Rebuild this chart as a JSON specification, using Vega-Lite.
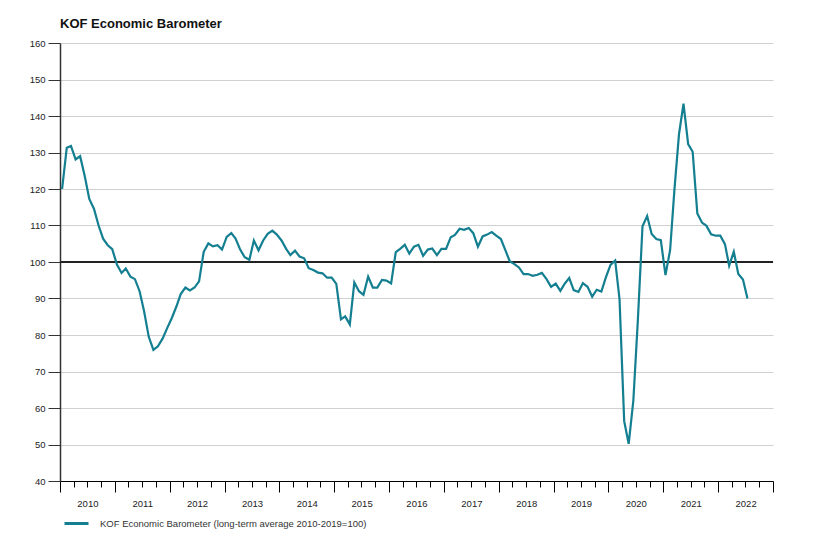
{
  "$schema": "https://vega.github.io/schema/vega-lite/v6.json",
  "width": 713,
  "height": 438,
  "autosize": {"type": "none"},
  "padding": {"left": 60, "top": 43, "right": 48, "bottom": 58},
  "background": "white",
  "title": {"text": "KOF Economic Barometer", "anchor": "start", "frame": "group", "font": "Liberation Sans", "fontSize": 13, "fontWeight": "bold", "color": "#111", "offset": 7},
  "config": {"view": {"stroke": null}, "font": "Liberation Sans"},
  "data": {"values": [
    {"date": "2010-01-15", "value": 120.0}, {"date": "2010-02-15", "value": 131.3}, {"date": "2010-03-15", "value": 131.8}, {"date": "2010-04-15", "value": 128.1},
    {"date": "2010-05-15", "value": 129.0}, {"date": "2010-06-15", "value": 123.5}, {"date": "2010-07-15", "value": 117.3}, {"date": "2010-08-15", "value": 114.6},
    {"date": "2010-09-15", "value": 110.0}, {"date": "2010-10-15", "value": 106.4}, {"date": "2010-11-15", "value": 104.6}, {"date": "2010-12-15", "value": 103.5},
    {"date": "2011-01-15", "value": 99.3}, {"date": "2011-02-15", "value": 97.0}, {"date": "2011-03-15", "value": 98.2}, {"date": "2011-04-15", "value": 96.0},
    {"date": "2011-05-15", "value": 95.3}, {"date": "2011-06-15", "value": 92.0}, {"date": "2011-07-15", "value": 86.5}, {"date": "2011-08-15", "value": 79.5},
    {"date": "2011-09-15", "value": 75.9}, {"date": "2011-10-15", "value": 76.9}, {"date": "2011-11-15", "value": 79.0}, {"date": "2011-12-15", "value": 81.8},
    {"date": "2012-01-15", "value": 84.6}, {"date": "2012-02-15", "value": 87.8}, {"date": "2012-03-15", "value": 91.2}, {"date": "2012-04-15", "value": 93.0},
    {"date": "2012-05-15", "value": 92.2}, {"date": "2012-06-15", "value": 93.0}, {"date": "2012-07-15", "value": 94.7}, {"date": "2012-08-15", "value": 102.8},
    {"date": "2012-09-15", "value": 105.1}, {"date": "2012-10-15", "value": 104.3}, {"date": "2012-11-15", "value": 104.6}, {"date": "2012-12-15", "value": 103.4},
    {"date": "2013-01-15", "value": 106.9}, {"date": "2013-02-15", "value": 107.9}, {"date": "2013-03-15", "value": 106.4}, {"date": "2013-04-15", "value": 103.4},
    {"date": "2013-05-15", "value": 101.3}, {"date": "2013-06-15", "value": 100.6}, {"date": "2013-07-15", "value": 105.9}, {"date": "2013-08-15", "value": 103.2},
    {"date": "2013-09-15", "value": 105.9}, {"date": "2013-10-15", "value": 107.7}, {"date": "2013-11-15", "value": 108.6}, {"date": "2013-12-15", "value": 107.5},
    {"date": "2014-01-15", "value": 105.9}, {"date": "2014-02-15", "value": 103.6}, {"date": "2014-03-15", "value": 101.9}, {"date": "2014-04-15", "value": 103.1},
    {"date": "2014-05-15", "value": 101.5}, {"date": "2014-06-15", "value": 101.0}, {"date": "2014-07-15", "value": 98.3}, {"date": "2014-08-15", "value": 97.8},
    {"date": "2014-09-15", "value": 97.1}, {"date": "2014-10-15", "value": 96.9}, {"date": "2014-11-15", "value": 95.7}, {"date": "2014-12-15", "value": 95.7},
    {"date": "2015-01-15", "value": 94.0}, {"date": "2015-02-15", "value": 84.3}, {"date": "2015-03-15", "value": 85.1}, {"date": "2015-04-15", "value": 82.9},
    {"date": "2015-05-15", "value": 94.4}, {"date": "2015-06-15", "value": 92.0}, {"date": "2015-07-15", "value": 91.0}, {"date": "2015-08-15", "value": 96.0},
    {"date": "2015-09-15", "value": 93.0}, {"date": "2015-10-15", "value": 93.0}, {"date": "2015-11-15", "value": 95.1}, {"date": "2015-12-15", "value": 94.9},
    {"date": "2016-01-15", "value": 94.1}, {"date": "2016-02-15", "value": 102.7}, {"date": "2016-03-15", "value": 103.6}, {"date": "2016-04-15", "value": 104.7},
    {"date": "2016-05-15", "value": 102.3}, {"date": "2016-06-15", "value": 104.2}, {"date": "2016-07-15", "value": 104.7}, {"date": "2016-08-15", "value": 101.7},
    {"date": "2016-09-15", "value": 103.4}, {"date": "2016-10-15", "value": 103.7}, {"date": "2016-11-15", "value": 101.9}, {"date": "2016-12-15", "value": 103.6},
    {"date": "2017-01-15", "value": 103.6}, {"date": "2017-02-15", "value": 106.8}, {"date": "2017-03-15", "value": 107.4}, {"date": "2017-04-15", "value": 109.1},
    {"date": "2017-05-15", "value": 108.8}, {"date": "2017-06-15", "value": 109.3}, {"date": "2017-07-15", "value": 107.9}, {"date": "2017-08-15", "value": 104.2},
    {"date": "2017-09-15", "value": 107.0}, {"date": "2017-10-15", "value": 107.5}, {"date": "2017-11-15", "value": 108.2}, {"date": "2017-12-15", "value": 107.2},
    {"date": "2018-01-15", "value": 106.3}, {"date": "2018-02-15", "value": 103.1}, {"date": "2018-03-15", "value": 100.2}, {"date": "2018-04-15", "value": 99.4},
    {"date": "2018-05-15", "value": 98.5}, {"date": "2018-06-15", "value": 96.7}, {"date": "2018-07-15", "value": 96.7}, {"date": "2018-08-15", "value": 96.2},
    {"date": "2018-09-15", "value": 96.5}, {"date": "2018-10-15", "value": 97.0}, {"date": "2018-11-15", "value": 95.3}, {"date": "2018-12-15", "value": 93.2},
    {"date": "2019-01-15", "value": 94.1}, {"date": "2019-02-15", "value": 92.1}, {"date": "2019-03-15", "value": 94.0}, {"date": "2019-04-15", "value": 95.6},
    {"date": "2019-05-15", "value": 92.3}, {"date": "2019-06-15", "value": 91.8}, {"date": "2019-07-15", "value": 94.2}, {"date": "2019-08-15", "value": 93.2},
    {"date": "2019-09-15", "value": 90.5}, {"date": "2019-10-15", "value": 92.4}, {"date": "2019-11-15", "value": 91.9}, {"date": "2019-12-15", "value": 95.8},
    {"date": "2020-01-15", "value": 99.2}, {"date": "2020-02-15", "value": 100.4}, {"date": "2020-03-15", "value": 89.8}, {"date": "2020-04-15", "value": 56.4},
    {"date": "2020-05-15", "value": 50.2}, {"date": "2020-06-15", "value": 62.0}, {"date": "2020-07-15", "value": 84.0}, {"date": "2020-08-15", "value": 109.8},
    {"date": "2020-09-15", "value": 112.6}, {"date": "2020-10-15", "value": 107.7}, {"date": "2020-11-15", "value": 106.3}, {"date": "2020-12-15", "value": 106.0},
    {"date": "2021-01-15", "value": 96.4}, {"date": "2021-02-15", "value": 103.3}, {"date": "2021-03-15", "value": 119.5}, {"date": "2021-04-15", "value": 135.0},
    {"date": "2021-05-15", "value": 143.4}, {"date": "2021-06-15", "value": 132.3}, {"date": "2021-07-15", "value": 130.2}, {"date": "2021-08-15", "value": 113.3},
    {"date": "2021-09-15", "value": 110.8}, {"date": "2021-10-15", "value": 109.9}, {"date": "2021-11-15", "value": 107.6}, {"date": "2021-12-15", "value": 107.2},
    {"date": "2022-01-15", "value": 107.2}, {"date": "2022-02-15", "value": 104.9}, {"date": "2022-03-15", "value": 99.0}, {"date": "2022-04-15", "value": 102.8},
    {"date": "2022-05-15", "value": 96.7}, {"date": "2022-06-15", "value": 95.2}, {"date": "2022-07-15", "value": 90.0}
  ]},
  "layer": [
    {
      "mark": {"type": "rule", "color": "#222", "strokeWidth": 1},
      "encoding": {
        "y": {
          "datum": 100, "type": "quantitative",
          "scale": {"domain": [40, 160], "nice": false, "zero": false},
          "axis": {
            "title": null,
            "values": [40, 50, 60, 70, 80, 90, 100, 110, 120, 130, 140, 150, 160],
            "grid": true, "gridColor": "#d0d0d0", "gridWidth": 1,
            "tickSize": 12, "tickColor": "#333", "tickWidth": 1,
            "domainColor": "#333", "domainWidth": 1.5,
            "labelFontSize": 9.5, "labelColor": "#222", "labelPadding": 3, "labelFont": "Liberation Sans"
          }
        }
      }
    },
    {
      "mark": {"type": "line", "strokeWidth": 2.2, "interpolate": "linear"},
      "encoding": {
        "x": {
          "field": "date", "type": "temporal",
          "scale": {"type": "utc", "domain": [1262304000000, 1672531200000]},
          "axis": {
            "title": null, "grid": false,
            "tickCount": {"interval": "month", "step": 3},
            "tickSize": {"condition": {"test": "utcmonth(datum.value) == 0", "value": 11}, "value": 6},
            "tickColor": "#000", "tickWidth": 1,
            "domainColor": "#000", "domainWidth": 1,
            "labelExpr": "utcmonth(datum.value) == 0 && utcyear(datum.value) < 2023 ? utcFormat(datum.value, '%Y') : ''",
            "labelOffset": 27.4, "labelAlign": "center", "labelPadding": 6,
            "labelOverlap": false, "labelBound": false, "labelFlush": false,
            "labelFontSize": 9.5, "labelColor": "#222", "labelFont": "Liberation Sans"
          }
        },
        "y": {
          "field": "value", "type": "quantitative",
          "scale": {"domain": [40, 160], "nice": false, "zero": false},
          "axis": {
            "title": null,
            "values": [40, 50, 60, 70, 80, 90, 100, 110, 120, 130, 140, 150, 160],
            "grid": true, "gridColor": "#d0d0d0", "gridWidth": 1,
            "tickSize": 12, "tickColor": "#333", "tickWidth": 1,
            "domainColor": "#333", "domainWidth": 1.5,
            "labelFontSize": 9.5, "labelColor": "#222", "labelPadding": 3, "labelFont": "Liberation Sans"
          }
        },
        "color": {
          "datum": "KOF Economic Barometer (long-term average 2010-2019=100)",
          "scale": {"range": ["#137f90"]},
          "legend": {
            "title": null, "orient": "none", "legendX": 3, "legendY": 467,
            "symbolType": "stroke", "symbolSize": 576, "symbolStrokeWidth": 3,
            "labelFontSize": 9.5, "labelColor": "#333", "labelOffset": 10, "labelLimit": 0, "labelFont": "Liberation Sans"
          }
        }
      }
    }
  ]
}
